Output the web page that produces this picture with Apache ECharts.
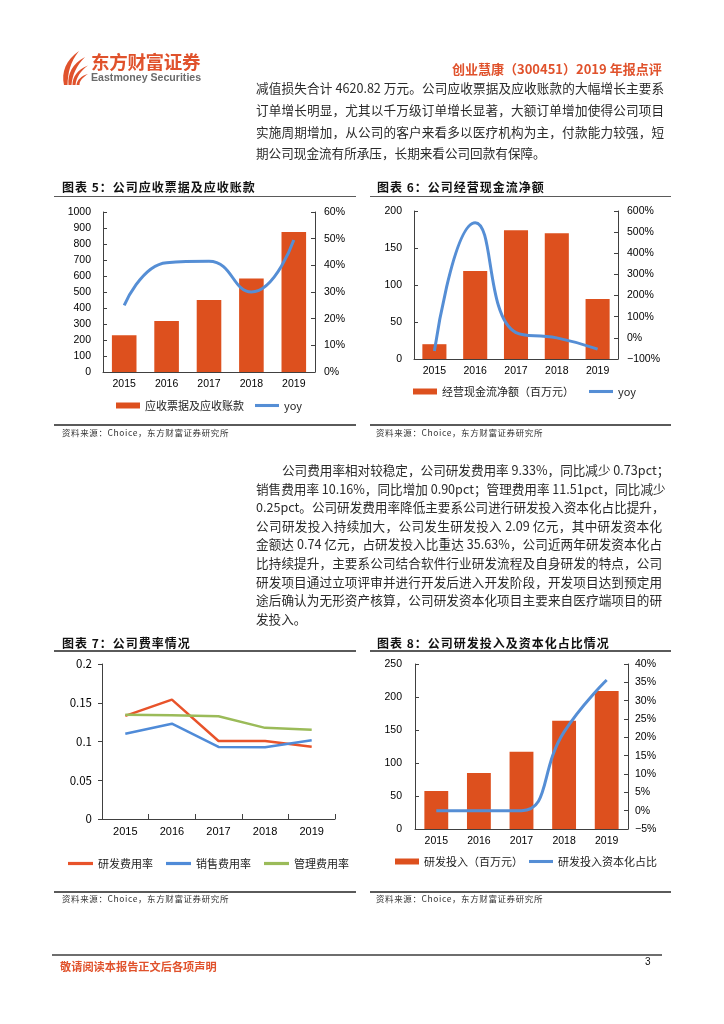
<!DOCTYPE html>
<html>
<head>
<meta charset="utf-8">
<script src="https://cdn.jsdelivr.net/npm/echarts/dist/echarts.min.js"></script>
<style>
  html, body { margin:0; padding:0; background:#fff; }
  #page { position:relative; width:724px; height:1024px; overflow:hidden; background:#fff; }
  #chart { position:absolute; left:0; top:0; width:724px; height:1024px; z-index:0; }
  .t { position:absolute; z-index:1; white-space:nowrap; font-family:"Noto Sans CJK SC", sans-serif; color:#1a1a1a; }
  .ln { position:absolute; z-index:1; font-family:"Noto Sans CJK SC", sans-serif; color:#2a2a2a;
        font-size:12.6px; height:18px; line-height:18px; white-space:nowrap; overflow:visible;
        text-align:justify; text-align-last:justify; }
  .ln.last { text-align-last:left; }
  .ttl { position:absolute; z-index:1; font-family:"Noto Sans CJK SC", sans-serif; font-weight:bold;
         font-size:12px; letter-spacing:1px; color:#111; white-space:nowrap; }
  .rule { position:absolute; z-index:1; background:#5a5a5a; height:1.5px; }
  .src { position:absolute; z-index:1; font-family:"Noto Sans CJK SC", sans-serif; font-size:8.5px;
         letter-spacing:0.6px; color:#333; white-space:nowrap; }
</style>
</head>
<body>
<div id="page">
  <div id="chart"></div>

  <!-- header -->
  <svg style="position:absolute;left:0;top:0;z-index:1" width="120" height="100">
    <g fill="#E0522C">
      <path d="M64,85 C61,72 66,60 79,51 C70,62 68,73 67.5,85 Z"/>
      <path d="M68.5,85 C67.5,74 72,64 85,57 C76,66 72.5,75 71.5,85 Z"/>
      <path d="M72.5,85 C72.5,77 77,70 88,65.5 C80.5,71 76.5,77 75.5,85 Z"/>
      <path d="M76.5,85 C77,80 81,76 88,74 C82.5,77.5 79.5,81 79.5,85 Z"/>
    </g>
  </svg>
  <div class="t" style="left:91px;top:48px;font-size:18.5px;font-weight:bold;color:#E0522C;letter-spacing:-0.3px;">东方财富证券</div>
  <div class="t" style="left:91px;top:71px;font-size:10.6px;font-weight:bold;color:#6b6b6b;font-family:'Liberation Sans',Arial,sans-serif;">Eastmoney Securities</div>
  <div class="t" style="left:452px;top:59px;font-size:13px;font-weight:bold;color:#E0522C;">创业慧康（300451）2019 年报点评</div>

  <!-- paragraph 1 -->
  <div class="ln" style="left:256px;top:79px;width:408px;">减值损失合计 4620.82 万元。公司应收票据及应收账款的大幅增长主要系</div>
  <div class="ln" style="left:256px;top:101px;width:408px;">订单增长明显，尤其以千万级订单增长显著，大额订单增加使得公司项目</div>
  <div class="ln" style="left:256px;top:123px;width:408px;">实施周期增加，从公司的客户来看多以医疗机构为主，付款能力较强，短</div>
  <div class="ln last" style="left:256px;top:144px;width:408px;">期公司现金流有所承压，长期来看公司回款有保障。</div>

  <!-- chart titles / rules / sources (top row) -->
  <div class="ttl" style="left:62px;top:178px;">图表 5：公司应收票据及应收账款</div>
  <div class="rule" style="left:54px;top:195.5px;width:302px;"></div>
  <div class="rule" style="left:54px;top:424px;width:302px;"></div>
  <div class="src" style="left:62px;top:426px;">资料来源：Choice，东方财富证券研究所</div>

  <div class="ttl" style="left:377px;top:178px;">图表 6：公司经营现金流净额</div>
  <div class="rule" style="left:370px;top:195.5px;width:301px;"></div>
  <div class="rule" style="left:370px;top:424px;width:301px;"></div>
  <div class="src" style="left:376px;top:426px;">资料来源：Choice，东方财富证券研究所</div>

  <!-- paragraph 2 -->
  <div class="ln" style="left:282px;top:461px;width:380px;">公司费用率相对较稳定，公司研发费用率 9.33%，同比减少 0.73pct；</div>
  <div class="ln" style="left:256px;top:479.6px;width:406px;">销售费用率 10.16%，同比增加 0.90pct；管理费用率 11.51pct，同比减少</div>
  <div class="ln" style="left:256px;top:498.2px;width:406px;">0.25pct。公司研发费用率降低主要系公司进行研发投入资本化占比提升，</div>
  <div class="ln" style="left:256px;top:516.8px;width:406px;">公司研发投入持续加大，公司发生研发投入 2.09 亿元，其中研发资本化</div>
  <div class="ln" style="left:256px;top:535.4px;width:406px;">金额达 0.74 亿元，占研发投入比重达 35.63%，公司近两年研发资本化占</div>
  <div class="ln" style="left:256px;top:554px;width:406px;">比持续提升，主要系公司结合软件行业研发流程及自身研发的特点，公司</div>
  <div class="ln" style="left:256px;top:572.6px;width:406px;">研发项目通过立项评审并进行开发后进入开发阶段，开发项目达到预定用</div>
  <div class="ln" style="left:256px;top:591.2px;width:406px;">途后确认为无形资产核算，公司研发资本化项目主要来自医疗端项目的研</div>
  <div class="ln last" style="left:256px;top:609.8px;width:406px;">发投入。</div>

  <!-- chart titles / rules / sources (bottom row) -->
  <div class="ttl" style="left:62px;top:634px;">图表 7：公司费率情况</div>
  <div class="rule" style="left:54px;top:650px;width:302px;"></div>
  <div class="rule" style="left:54px;top:891px;width:302px;"></div>
  <div class="src" style="left:62px;top:892px;">资料来源：Choice，东方财富证券研究所</div>

  <div class="ttl" style="left:377px;top:634px;">图表 8：公司研发投入及资本化占比情况</div>
  <div class="rule" style="left:370px;top:650px;width:301px;"></div>
  <div class="rule" style="left:370px;top:891px;width:301px;"></div>
  <div class="src" style="left:376px;top:892px;">资料来源：Choice，东方财富证券研究所</div>

  <!-- footer -->
  <div class="rule" style="left:52px;top:954px;width:610px;height:2px;background:#6e6e6e;"></div>
  <div class="t" style="left:60px;top:958px;font-size:11.2px;font-weight:bold;color:#E0522C;">敬请阅读本报告正文后各项声明</div>
  <div class="t" style="left:645px;top:956px;font-size:10px;color:#111;font-family:'Liberation Sans',Arial,sans-serif;">3</div>
</div>

<script>
// ---------- data ----------
const years = ['2015', '2016', '2017', '2018', '2019'];

// 图表5
const receivables = [229, 318, 450, 585, 875];
const receivablesYoy = [25, 41, 41.5, 30, 49.5];

// 图表6
const cashFlow = [20, 119, 174, 170, 81];
const cashFlowYoy = [-62, 545, 25, 0, -53];

// 图表7
const rdRate = [0.133, 0.154, 0.1006, 0.1006, 0.0933];
const salesRate = [0.110, 0.123, 0.093, 0.0926, 0.1016];
const adminRate = [0.1345, 0.134, 0.1325, 0.1176, 0.1151];

// 图表8
const rdInvest = [57.5, 85, 117, 164, 209];
const rdCapRatio = [0, 0, 0, 21.5, 35.63];

// ---------- styles ----------
const BAR = '#DD501E';
const BLUE = '#558ED5';
const RED_LINE = '#E8532A';
const BLUE_LINE = '#4F8BD8';
const GREEN_LINE = '#9BBB59';
const AXIS = '#404040';
const NUMFONT = "'Liberation Sans', Arial, sans-serif";
const CJK = "'Noto Sans CJK SC', sans-serif";
const LINE_ICON = 'path://M0,0h25v3.2h-25z';

const pct = v => (v < 0 ? '\u2212' + Math.abs(v) : v) + '%';
const plain = v => String(v);

function xAx(i, ticks) {
  return {
    type: 'category', gridIndex: i, data: years,
    axisLine: { onZero: false, lineStyle: { color: AXIS, width: 1 } },
    axisTick: { show: ticks, inside: true, length: 5, lineStyle: { color: AXIS } },
    axisLabel: { color: '#000', fontSize: i === 2 ? 11 : 10.5, fontFamily: NUMFONT, margin: 7 }
  };
}
function yAx(i, pos, min, max, interval, fmt, opts) {
  opts = opts || {};
  return {
    type: 'value', gridIndex: i, position: pos, min: min, max: max, interval: interval,
    splitLine: { show: false },
    axisLine: { show: true, lineStyle: { color: AXIS, width: 1 } },
    axisTick: { show: true, inside: opts.outside ? false : true, length: 4, lineStyle: { color: AXIS } },
    axisLabel: { color: '#000', fontSize: opts.fontSize || 10.5, fontFamily: opts.font || NUMFONT,
                 margin: opts.margin || 10, formatter: fmt }
  };
}

const legendText = { fontFamily: CJK, fontSize: 11, color: '#222' };

const option = {
  animation: false,
  grid: [
    { left: 103, top: 212, width: 212, height: 160 },
    { left: 414, top: 211, width: 204, height: 148 },
    { left: 102, top: 664, width: 233, height: 155 },
    { left: 415, top: 664, width: 213, height: 165 }
  ],
  xAxis: [xAx(0, false), xAx(1, false), xAx(2, true), xAx(3, false)],
  yAxis: [
    yAx(0, 'left', 0, 1000, 100, plain, { margin: 12 }),
    yAx(0, 'right', 0, 60, 10, pct, { margin: 9 }),
    yAx(1, 'left', 0, 200, 50, plain, { margin: 12 }),
    yAx(1, 'right', -100, 600, 100, pct, { margin: 9 }),
    yAx(2, 'left', 0, 0.2, 0.05, v => String(parseFloat(v.toFixed(2))),
        { outside: true, margin: 10, fontSize: 11.5, font: CJK }),
    yAx(3, 'left', 0, 250, 50, plain, { margin: 13 }),
    yAx(3, 'right', -5, 40, 5, pct, { margin: 7 })
  ],
  legend: [
    { left: 111, top: 395, itemWidth: 24, itemHeight: 6, itemGap: 11, textStyle: legendText,
      data: [{ name: '应收票据及应收账款', icon: 'rect' }, { name: 'yoy', icon: LINE_ICON }] },
    { left: 408, top: 381, itemWidth: 24, itemHeight: 6, itemGap: 15, textStyle: legendText,
      formatter: n => n.trim(),
      data: [{ name: '经营现金流净额（百万元）', icon: 'rect' }, { name: 'yoy ', icon: LINE_ICON }] },
    { left: 63, top: 853, itemWidth: 25, itemHeight: 6, itemGap: 13, textStyle: legendText,
      data: [{ name: '研发费用率', icon: LINE_ICON }, { name: '销售费用率', icon: LINE_ICON },
             { name: '管理费用率', icon: LINE_ICON }] },
    { left: 390, top: 851, itemWidth: 24, itemHeight: 6, itemGap: 6, textStyle: legendText,
      data: [{ name: '研发投入（百万元）', icon: 'rect' }, { name: '研发投入资本化占比', icon: LINE_ICON }] }
  ],
  series: [
    { name: '应收票据及应收账款', type: 'bar', xAxisIndex: 0, yAxisIndex: 0, data: receivables,
      barWidth: '58%', itemStyle: { color: BAR } },
    { name: 'yoy', type: 'line', xAxisIndex: 0, yAxisIndex: 1, data: receivablesYoy, smooth: true,
      symbol: 'none', z: 5, lineStyle: { color: BLUE, width: 3 }, itemStyle: { color: BLUE } },

    { name: '经营现金流净额（百万元）', type: 'bar', xAxisIndex: 1, yAxisIndex: 2, data: cashFlow,
      barWidth: '59%', itemStyle: { color: BAR } },
    { name: 'yoy ', type: 'line', xAxisIndex: 1, yAxisIndex: 3, data: cashFlowYoy, smooth: true,
      symbol: 'none', z: 5, lineStyle: { color: BLUE, width: 3 }, itemStyle: { color: BLUE } },

    { name: '研发费用率', type: 'line', xAxisIndex: 2, yAxisIndex: 4, data: rdRate,
      symbol: 'none', lineStyle: { color: RED_LINE, width: 2.5 }, itemStyle: { color: RED_LINE } },
    { name: '销售费用率', type: 'line', xAxisIndex: 2, yAxisIndex: 4, data: salesRate,
      symbol: 'none', lineStyle: { color: BLUE_LINE, width: 2.5 }, itemStyle: { color: BLUE_LINE } },
    { name: '管理费用率', type: 'line', xAxisIndex: 2, yAxisIndex: 4, data: adminRate,
      symbol: 'none', lineStyle: { color: GREEN_LINE, width: 2.5 }, itemStyle: { color: GREEN_LINE } },

    { name: '研发投入（百万元）', type: 'bar', xAxisIndex: 3, yAxisIndex: 5, data: rdInvest,
      barWidth: '56%', itemStyle: { color: BAR } },
    { name: '研发投入资本化占比', type: 'line', xAxisIndex: 3, yAxisIndex: 6, data: rdCapRatio, smooth: true,
      symbol: 'none', z: 5, lineStyle: { color: BLUE, width: 3 }, itemStyle: { color: BLUE } }
  ]
};

const chart = echarts.init(document.getElementById('chart'), null, { renderer: 'canvas' });
chart.setOption(option);
</script>
</body>
</html>
